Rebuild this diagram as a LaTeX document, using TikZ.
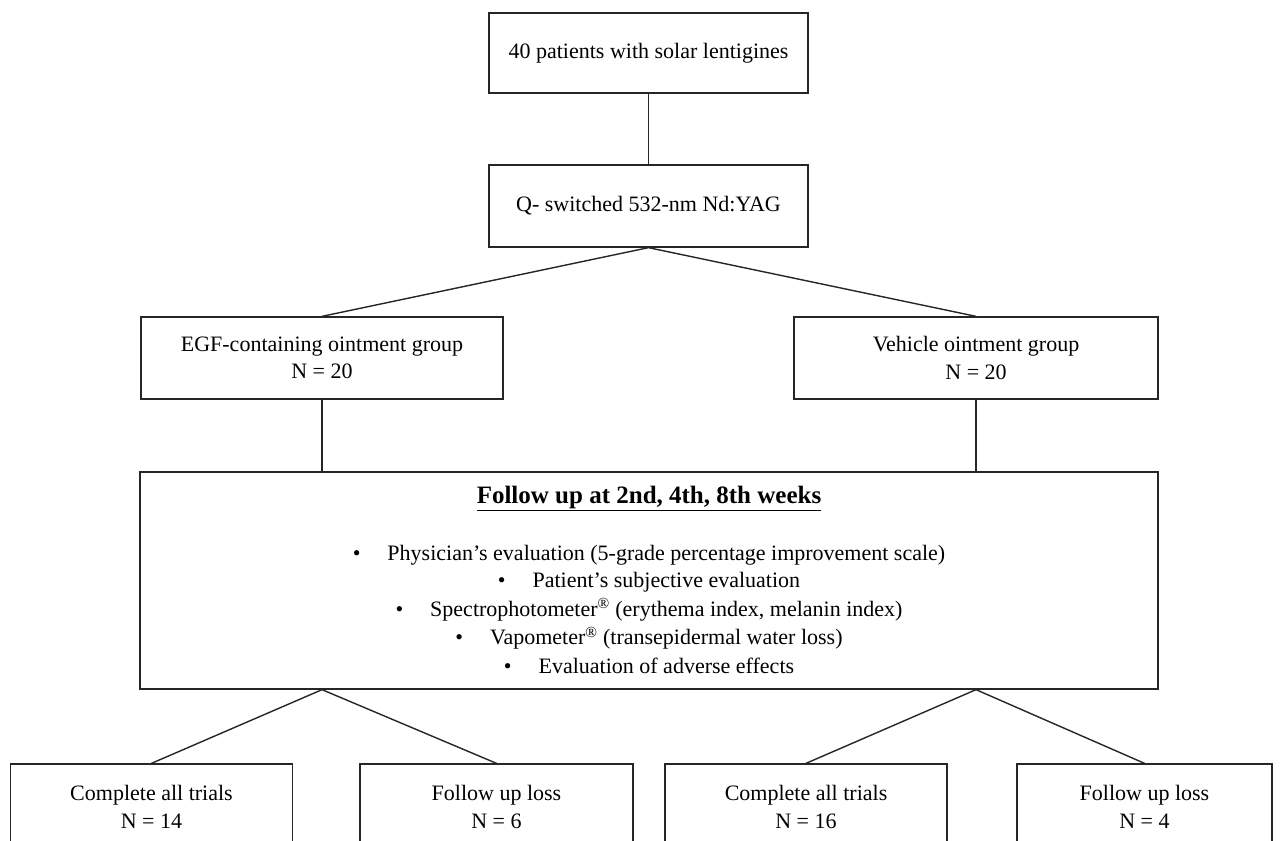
\documentclass[tikz,border=0pt]{standalone}
\usepackage{fontspec}
\setmainfont{Liberation Serif}
\begin{document}
\begin{tikzpicture}[x=1pt,y=-1pt,
  box/.style={draw=black!85, line width=1.3pt, rectangle, inner sep=0pt, align=center,
    font=\fontsize{22}{27.5}\selectfont},
  conn/.style={draw=black!85, line width=1.4pt},
  txt/.style={inner sep=0pt, font=\fontsize{22}{27}\selectfont}]
\useasboundingbox (0,0) rectangle (1284,840);
\clip (0,0) rectangle (1284,840);
\fill[white] (0,0) rectangle (1284,840);
\node[box, minimum width=319pt, minimum height=80pt] (top) at (648.5,53) {40 patients with solar lentigines};
\node[box, minimum width=319pt, minimum height=82pt] (laser) at (648.5,206) {Q- switched 532-nm Nd:YAG};
\node[box, minimum width=362pt, minimum height=82pt] (egf) at (322,358) {EGF-containing ointment group\\N = 20};
\node[box, minimum width=364pt, minimum height=82pt] (veh) at (976,358) {Vehicle ointment group\\N = 20};
\node[box, minimum width=1018pt, minimum height=217pt] (big) at (649,580.5) {};
\node[txt, font=\fontsize{25}{27}\selectfont\bfseries] (title) at (649,498) {\underline{Follow up at 2nd, 4th, 8th weeks}};
\node[txt] (l1) at (649,555) {•\hspace{27pt}Physician’s evaluation (5-grade percentage improvement scale)};
\node[txt] (l2) at (649,582.5) {•\hspace{27pt}Patient’s subjective evaluation};
\node[txt] (l3) at (649,610) {•\hspace{27pt}Spectrophotometer\textsuperscript{\textregistered} (erythema index, melanin index)};
\node[txt] (l4) at (649,638) {•\hspace{27pt}Vapometer\textsuperscript{\textregistered} (transepidermal water loss)};
\node[txt] (l5) at (649,666) {•\hspace{27pt}Evaluation of adverse effects};
\node[box, minimum width=282pt, minimum height=86pt] (ca) at (151.5,807) {Complete all trials\\N = 14};
\node[box, minimum width=273pt, minimum height=86pt] (la) at (496.5,807) {Follow up loss\\N = 6};
\node[box, minimum width=282pt, minimum height=86pt] (cb) at (806,807) {Complete all trials\\N = 16};
\node[box, minimum width=255pt, minimum height=86pt] (lb) at (1144.5,807) {Follow up loss\\N = 4};
\coordinate (bl) at (egf.south |- big.south);
\coordinate (br) at (veh.south |- big.south);
\draw[conn] (top.south) -- (laser.north);
\draw[conn] (egf.north) -- (laser.south) -- (veh.north);
\draw[conn] (egf.south) -- (egf.south |- big.north);
\draw[conn] (veh.south) -- (veh.south |- big.north);
\draw[conn] (ca.north) -- (bl) -- (la.north);
\draw[conn] (cb.north) -- (br) -- (lb.north);
\end{tikzpicture}
\end{document}
